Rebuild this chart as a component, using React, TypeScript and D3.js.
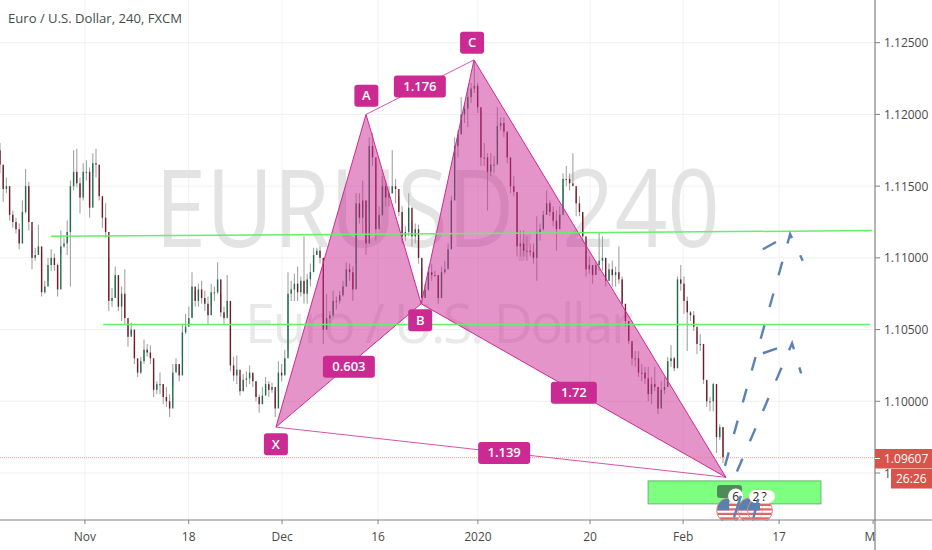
import React from "react";
import * as d3 from "d3";

// Prices are in pips above 1.0000 (1165 = 1.1165)
const highs = [1180,1163,1156,1142,1133,1128,1124,1140,1162,1153,1119,1107,1123,1103,1084,1100,1106,1103,1096,1119,1114,1126,1154,1175,1176,1156,1166,1168,1163,1173,1176,1156,1140,1138,1100,1079,1094,1073,1080,1092,1054,1055,1040,1026,1031,1043,1040,1039,1024,1014,1020,1012,1010,1005,1026,1030,1026,1054,1061,1066,1090,1077,1082,1084,1077,1073,1082,1080,1097,1075,1066,1088,1059,1031,1032,1017,1019,1021,1025,1019,1014,1005,1010,1017,1014,1013,1007,1028,1026,1036,1090,1084,1089,1094,1087,1115,1089,1096,1107,1107,
1108,1087,1075,1063,1077,1073,1077,1084,1097,1096,1094,1145,1145,1154,1140,1184,1187,1166,1136,1157,1154,1150,1175,1155,1143,1136,1122,1145,1126,1124,1123,1093,1082,1094,1096,1091,1087,1094,1098,1110,1143,1184,1189,1212,1208,1219,1222,1238,1222,1204,1180,1173,1173,1171,1205,1198,1198,1187,1162,1157,1145,1119,1119,1115,1110,1110,1129,1124,1133,1147,1140,1136,1133,1136,1159,1164,1159,1173,1147,1143,1129,1105,1101,1094,1098,1118,1115,1089,1096,1098,1094,1108,1087,1066,1054,1040,1035,1035,1026,1024,1024,1017,1024,1010,1014,1017,1031,1039,1031,1087,1095,1087,1073,1063,1063,1049,1047,1038,1012,1003,1013,1002,984,982];
const lows = [1159,1139,1145,1126,1121,1117,1106,1126,1131,1119,1092,1098,1104,1073,1075,1084,1091,1091,1073,1103,1107,1102,1080,1147,1149,1131,1140,1154,1128,1159,1156,1140,1121,1114,1063,1066,1073,1063,1056,1054,1038,1047,1026,1017,1019,1026,1031,1026,1003,1005,1005,998,996,989,1010,1021,1014,1031,1047,1054,1059,1066,1066,1068,1063,1054,1066,1070,1075,1059,1054,1061,1021,1014,1012,1004,1007,1010,1012,1010,1000,992,998,1005,1003,1006,989,1007,1014,1019,1035,1070,1070,1070,1073,1068,1068,1080,1094,1103,
1096,1040,1050,1054,1059,1064,1068,1073,1087,1084,1070,1096,1124,1117,1102,1133,1164,1112,1122,1129,1136,1136,1145,1138,1129,1110,1112,1115,1108,1110,1096,1068,1073,1077,1084,1087,1068,1077,1089,1094,1110,1143,1170,1189,1194,1191,1208,1215,1201,1164,1164,1133,1157,1159,1178,1189,1184,1166,1145,1143,1101,1101,1101,1098,1101,1096,1084,1112,1119,1133,1129,1122,1105,1124,1133,1150,1147,1152,1129,1129,1112,1087,1089,1082,1089,1091,1091,1080,1084,1080,1080,1082,1066,1052,1040,1025,1024,1017,1014,1012,1000,998,1007,991,998,1005,1012,1024,1021,1049,1077,1061,1035,1056,1049,1033,1035,1012,996,993,993,964,973,957];
const closes = [1165,1148,1150,1130,1125,1120,1110,1132,1150,1125,1100,1102,1108,1076,1080,1095,1100,1095,1078,1108,1110,1118,1150,1160,1152,1142,1160,1160,1135,1166,1165,1143,1128,1118,1070,1072,1088,1066,1075,1058,1045,1050,1030,1020,1028,1036,1034,1030,1008,1012,1012,1003,1000,995,1020,1026,1018,1048,1052,1058,1080,1070,1078,1072,1068,1060,1076,1076,1085,1062,1058,1070,1025,1018,1022,1007,1015,1016,1020,1014,1003,998,1004,1012,1008,1010,995,1020,1018,1030,1075,1078,1082,1076,1084,1075,1085,1090,1102,1105,
1100,1050,1058,1060,1070,1070,1074,1080,1092,1090,1078,1138,1128,1140,1110,1178,1170,1120,1130,1150,1142,1145,1150,1148,1132,1115,1118,1135,1115,1120,1100,1072,1078,1090,1088,1088,1072,1090,1092,1106,1140,1178,1186,1200,1204,1212,1218,1220,1205,1170,1170,1160,1165,1165,1192,1194,1188,1170,1150,1146,1108,1110,1105,1105,1104,1100,1118,1120,1130,1138,1132,1126,1120,1130,1155,1155,1152,1150,1138,1132,1115,1092,1095,1088,1095,1098,1100,1084,1092,1088,1090,1085,1068,1056,1042,1030,1030,1020,1020,1016,1005,1012,1010,995,1008,1010,1028,1030,1023,1085,1082,1070,1062,1060,1052,1040,1040,1015,1000,1000,1012,975,982,961];

const priceTicks = [1.095, 1.1, 1.105, 1.11, 1.115, 1.12, 1.125];
const priceTickLabels = ["1", "1.10000", "1.10500", "1.11000", "1.11500", "1.12000", "1.12500"];
const timeLabels = ["Nov", "18", "Dec", "16", "2020", "20", "Feb", "17", "Ma"];
const timeBars = [26.2, 58.2, 87.0, 116.6, 147.4, 182, 210.7, 240.3, 269.3];

// Harmonic pattern pivots: bar index, price
const patX = { bar: 85.1, price: 1.0982 };
const patA = { bar: 112.9, price: 1.12 };
const patB = { bar: 129.9, price: 1.1068 };
const patC = { bar: 146.2, price: 1.1238 };
const patD = { bar: 223.9, price: 1.0947 };
const ratioLabels = [
  { text: "1.176", bar: 129.5, price: 1.12195, w: 52 },
  { text: "0.603", bar: 107.6, price: 1.1024, w: 52 },
  { text: "1.72", bar: 177, price: 1.1006, w: 46 },
  { text: "1.139", bar: 155.5, price: 1.0964, w: 52 },
];
const pivotLabels = [
  { text: "X", bar: 85.1, price: 1.0970 },
  { text: "A", bar: 113, price: 1.1213 },
  { text: "B", bar: 129.6, price: 1.10565 },
  { text: "C", bar: 145.6, price: 1.125 },
];

// Support/target levels: [bar, price] end points
const levelUpper = [[15.7, 1.1115], [269, 1.1119]];
const levelLower = [[31.8, 1.10535], [268.4, 1.10535]];
const zoneBars = [199.9, 253.2];
const zonePrices = [1.09445, 1.09285];
const lastPrice = 1.09607;

// Projected dashed paths: bar, price
const projectionA = [[223.6, 1.0955], [243.7, 1.11165], [247.6, 1.1098]];
const projectionAArm = [[235.3, 1.1106], [243.7, 1.11165]];
const projectionB = [[227.3, 1.0951], [244.3, 1.10405], [247.1, 1.10195]];
const projectionBArm = [[235.3, 1.10335], [244.3, 1.10405]];
const projectionStubs = [
  [[226.4, 1.0919], [228.5, 1.0934]],
  [[232.4, 1.0919], [233.9, 1.0932]],
];

// Calendar events
const flagBars = [224.9, 231.4, 234.4];
const eventPrice = 1.0924;

const PINK = "#cc2a93";
const W = 932, H = 550, AX = 875, AY = 520;

const x = d3.scaleLinear().domain([0, 223]).range([0, 723]);
// Candle slots were read at slightly uneven spacing along the time axis
const candleX = d3.scaleLinear().domain([0, 100, 195, 223]).range([0, 320, 632, 723]);
const y = d3.scaleLinear().domain([1.1, 1.125]).range([401.3, 42.7]);
const toPrice = (p: number) => 1 + p / 10000;
const line = d3.line<number[]>().x(d => x(d[0])).y(d => y(d[1]));
const tri = (a: any, b: any, c: any) =>
  line([[a.bar, a.price], [b.bar, b.price], [c.bar, c.price]]) + "Z";
const font = "'Open Sans', 'Liberation Sans', sans-serif";

function Flag({ cx, cy }: { cx: number; cy: number }) {
  const id = `f${Math.round(cx)}`;
  const stripes = d3.range(-11, 12, 4.5);
  return (
    <g>
      <clipPath id={id}><circle cx={cx} cy={cy} r={12} /></clipPath>
      <circle cx={cx} cy={cy} r={12.5} fill="#fff" fillOpacity={0.6} stroke="#ea7f7f" strokeWidth={1} />
      <g clipPath={`url(#${id})`}>
        {stripes.map(s => <rect key={s} x={cx - 12} y={cy + s} width={24} height={2.2} fill="#e06767" />)}
        <rect x={cx - 12} y={cy - 12} width={12} height={12} fill="#5c80ad" />
      </g>
    </g>
  );
}

export default function App() {
  const candles = closes.map((c, i) => ({
    i, c, o: i === 0 ? highs[0] - 5 : closes[i - 1], h: highs[i], l: lows[i],
  }));
  return (
    <svg width={W} height={H} style={{ position: "absolute", left: 0, top: 0, background: "#fff", fontFamily: font }}>
      <defs>
        <clipPath id="plot"><rect x={0} y={0} width={AX} height={AY} /></clipPath>
      </defs>
      {/* grid */}
      {priceTicks.map(p => <line key={p} x1={0} x2={AX} y1={y(p)} y2={y(p)} stroke="#f1f1f1" strokeWidth={1} />)}
      {timeBars.slice(0, 8).map(b => <line key={b} x1={x(b)} x2={x(b)} y1={0} y2={AY} stroke="#f1f1f1" strokeWidth={1} />)}
      {/* watermark */}
      <text x={155} y={247} fontSize={108} fontFamily="'Open Sans', sans-serif" fill="#e3e3e3" textLength={565} lengthAdjust="spacingAndGlyphs">EURUSD, 240</text>
      <text x={245} y={343} fontSize={54} fontFamily="'Open Sans', sans-serif" fill="#e9e9e9" textLength={388} lengthAdjust="spacing">Euro / U.S. Dollar</text>
      {/* candles */}
      <g clipPath="url(#plot)">
        {candles.map(d => {
          const up = d.c >= d.o;
          const top = y(toPrice(Math.max(d.o, d.c)));
          const bot = y(toPrice(Math.min(d.o, d.c)));
          const cx = candleX(d.i);
          return (
            <g key={d.i}>
              <line x1={cx} x2={cx} y1={y(toPrice(d.h))} y2={y(toPrice(d.l))} stroke="#a3a3a3" strokeWidth={1.1} />
              <rect x={cx - 0.7} y={top} width={1.4} height={Math.max(bot - top, 1)} fill={up ? "#1f6b4a" : "#6e1a2a"} />
            </g>
          );
        })}
      </g>
      {/* pattern */}
      <path d={tri(patX, patA, patB)} fill={PINK} fillOpacity={0.5} stroke={PINK} strokeWidth={1} />
      <path d={tri(patB, patC, patD)} fill={PINK} fillOpacity={0.5} stroke={PINK} strokeWidth={1} />
      <path d={line([[patX.bar, patX.price], [patD.bar, patD.price]]) as string} fill="none" stroke={PINK} strokeOpacity={0.8} strokeWidth={1} />
      <path d={line([[patA.bar, patA.price], [patC.bar, patC.price]]) as string} fill="none" stroke={PINK} strokeOpacity={0.8} strokeWidth={1} />
      {/* levels */}
      <path d={line(levelUpper) as string} stroke="#66f069" strokeWidth={1.5} fill="none" />
      <path d={line(levelLower) as string} stroke="#66f069" strokeWidth={1.5} fill="none" />
      <line x1={0} x2={AX} y1={y(lastPrice)} y2={y(lastPrice)} stroke="#f0776a" strokeOpacity={0.7} strokeWidth={1} strokeDasharray="1 1" />
      <rect x={x(zoneBars[0])} y={y(zonePrices[0])} width={x(zoneBars[1]) - x(zoneBars[0])} height={y(zonePrices[1]) - y(zonePrices[0])} fill="#7fff7f" stroke="#5eb874" strokeWidth={1} />
      {/* calendar events */}
      <rect x={717} y={485} width={25} height={13} rx={3} fill="#4f8a59" />
      {flagBars.map(b => <Flag key={b} cx={x(b)} cy={y(eventPrice)} />)}
      <circle cx={735.6} cy={496} r={7.5} fill="#fff" />
      <text x={735.6} y={500.5} textAnchor="middle" fontSize={12} fill="#222">6</text>
      <rect x={749} y={490} width={26} height={13} rx={6.5} fill="#fff" />
      <text x={756} y={500.5} textAnchor="middle" fontSize={12} fill="#222">2</text>
      <text x={764} y={500.5} textAnchor="middle" fontSize={12} fill="#222">?</text>
      {/* projections */}
      {[projectionA, projectionB].map((p, i) => (
        <path key={i} d={line(p) as string} fill="none" stroke="#5b82b5" strokeWidth={2.4} strokeDasharray="14 19" />
      ))}
      {[projectionAArm, projectionBArm].map((p, i) => (
        <path key={i} d={line(p) as string} fill="none" stroke="#5b82b5" strokeWidth={2.4} strokeDasharray="15 30" />
      ))}
      {projectionStubs.map((p, i) => (
        <path key={i} d={line(p) as string} fill="none" stroke="#5b82b5" strokeWidth={2.4} />
      ))}
      {/* labels */}
      {ratioLabels.map(l => (
        <g key={l.text}>
          <rect x={x(l.bar) - l.w / 2} y={y(l.price) - 11} width={l.w} height={22} rx={3} fill={PINK} />
          <text x={x(l.bar)} y={y(l.price) + 4.5} textAnchor="middle" fontSize={13} fill="#fff" fontWeight={600}>{l.text}</text>
        </g>
      ))}
      {pivotLabels.map(l => (
        <g key={l.text}>
          <rect x={x(l.bar) - 12} y={y(l.price) - 11} width={24} height={22} rx={3} fill={PINK} />
          <text x={x(l.bar)} y={y(l.price) + 4.5} textAnchor="middle" fontSize={13} fill="#fff" fontWeight={600}>{l.text}</text>
        </g>
      ))}
      {/* axes */}
      <rect x={AX} y={0} width={W - AX} height={H} fill="#fff" />
      <rect x={0} y={AY + 1} width={W} height={H - AY} fill="#fff" />
      <line x1={0} x2={W} y1={AY} y2={AY} stroke="#7f8289" strokeWidth={1} />
      <line x1={AX} x2={AX} y1={0} y2={H} stroke="#7f8289" strokeWidth={1.2} />
      {priceTicks.map((p, i) => (
        <g key={p}>
          <line x1={AX} x2={AX + 5} y1={y(p)} y2={y(p)} stroke="#7f8289" />
          <text x={884} y={y(p) + 4.5} fontSize={12} fill="#4a4a4a">{priceTickLabels[i]}</text>
        </g>
      ))}
      <clipPath id="timeClip"><rect x={0} y={AY} width={AX} height={H - AY} /></clipPath>
      <g clipPath="url(#timeClip)">
        {timeBars.map((b, i) => (
          <g key={b}>
            <line x1={x(b)} x2={x(b)} y1={AY} y2={AY + 4} stroke="#7f8289" />
            <text x={x(b)} y={541} textAnchor="middle" fontSize={12} fill="#4a4a4a">{timeLabels[i]}</text>
          </g>
        ))}
      </g>
      <rect x={AX} y={449} width={W - AX} height={19.5} fill="#d9534a" />
      <line x1={AX} x2={AX + 5} y1={458.5} y2={458.5} stroke="#fff" />
      <text x={884} y={463} fontSize={12} fill="#fff">1.09607</text>
      <rect x={891} y={469} width={W - 891} height={19.5} fill="#d9534a" />
      <text x={896} y={483} fontSize={12} fill="#fff">26:26</text>
      {/* title */}
      <text x={8} y={23} fontSize={13} fill="#3f4f4a" fontWeight={500} textLength={174} lengthAdjust="spacingAndGlyphs">Euro / U.S. Dollar, 240, FXCM</text>
    </svg>
  );
}
